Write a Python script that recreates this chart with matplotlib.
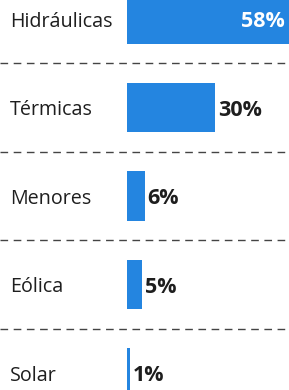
import matplotlib
matplotlib.use("Agg")
import matplotlib.pyplot as plt

categories = ["Hidráulicas", "Térmicas", "Menores", "Eólica", "Solar"]
values = [58, 30, 6, 5, 1]
value_labels = ["58%", "30%", "6%", "5%", "1%"]

blue = "#2485e0"
dark = "#1e1e1e"

fig = plt.figure(figsize=(2.89, 3.90), dpi=100)
ax = fig.add_axes([0, 0, 1, 1])

rows = list(range(len(categories)))
ax.barh(rows, values, height=0.555, color=blue, left=0)

x_left, x_right = -43.2, 55.0
for i, (cat, v, lab) in enumerate(zip(categories, values, value_labels)):
    ax.text(x_left + 3.4, i, cat, ha="left", va="center_baseline", fontsize=14.2,
            family="Open Sans", color=dark)
    if v > 50:
        ax.text(x_right - 1.6, i, lab, ha="right", va="center_baseline", fontsize=15.5,
                family="Open Sans", fontweight="bold", color="white")
    else:
        ax.text(v + 1.0, i, lab, ha="left", va="center_baseline", fontsize=15.5,
                family="Open Sans", fontweight="bold", color=dark)

# dashed separators between rows
for i in rows[:-1]:
    ax.axhline(i + 0.5, color="#444444", lw=1.0, ls=(0, (5.5, 4)))

ax.set_xlim(x_left, x_right)
ax.set_ylim(4.192, -0.215)
ax.axis("off")

fig.savefig("out.png", dpi=100, facecolor="white")
